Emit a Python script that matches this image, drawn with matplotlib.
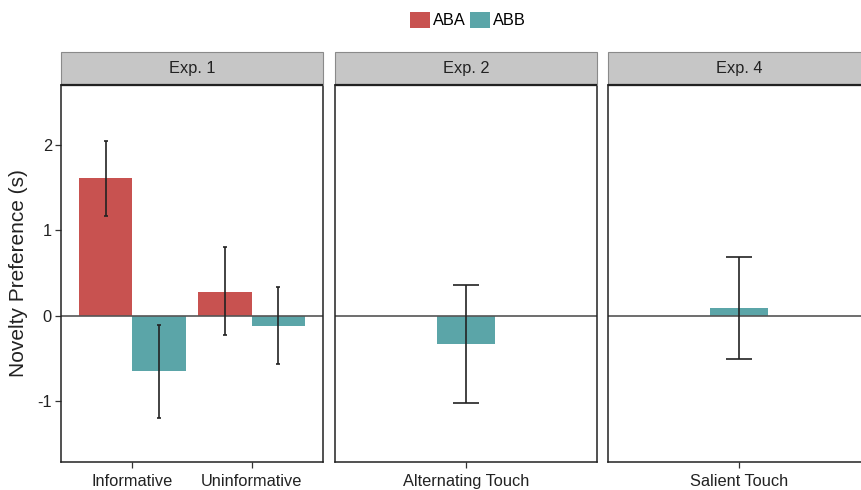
#!/usr/bin/env python
"""Novelty preference by experiment, faceted bar chart with error bars."""

import matplotlib
matplotlib.use('Agg')
import matplotlib.pyplot as plt
from matplotlib.patches import Patch, Rectangle

plt.rcParams['font.family'] = ['Liberation Sans', 'DejaVu Sans']

COLOR_ABA   = '#C85250'
COLOR_ABB   = '#5BA5A8'
STRIP_FILL  = '#C6C6C6'
STRIP_EDGE  = '#8A8A8A'
INK         = '#222222'
FONT_SIZE   = 11.8

# Data
exp1_categories = ['Informative', 'Uninformative']
exp1_aba        = [1.61, 0.28]
exp1_aba_lo     = [1.17, -0.23]
exp1_aba_hi     = [2.05, 0.81]
exp1_abb        = [-0.65, -0.12]
exp1_abb_lo     = [-1.19, -0.56]
exp1_abb_hi     = [-0.11, 0.34]

exp2_categories = ['Alternating Touch']
exp2_abb        = [-0.33]
exp2_abb_lo     = [-1.02]
exp2_abb_hi     = [0.36]

exp4_categories = ['Salient Touch']
exp4_abb        = [0.09]
exp4_abb_lo     = [-0.51]
exp4_abb_hi     = [0.69]

panel_titles = ['Exp. 1', 'Exp. 2', 'Exp. 4']
y_ticks      = [-1, 0, 1, 2]

W, H = 862, 490
fig = plt.figure(figsize=(W / 100, H / 100), dpi=100)

PANEL_TOP, PANEL_BOTTOM = 85, 462
STRIP_H = 33
panel_lefts = [61, 335, 608]
PANEL_W = 262


def make_axes(left_px):
    ax = fig.add_axes([left_px / W, 1 - PANEL_BOTTOM / H,
                       PANEL_W / W, (PANEL_BOTTOM - PANEL_TOP) / H])
    ax.set_ylim(-1.71, 2.70)
    for sp in ax.spines.values():
        sp.set_color('#222222')
        sp.set_linewidth(1.1)
    ax.tick_params(axis='both', length=4.5, width=0.9, color='#333333',
                   labelsize=FONT_SIZE, labelcolor=INK, pad=2)
    ax.tick_params(axis='x', pad=4)
    ax.axhline(0, color='#555555', lw=1.2, zorder=2.5)
    return ax


def add_strip(ax, title):
    h = STRIP_H / (PANEL_BOTTOM - PANEL_TOP)
    ax.add_patch(Rectangle((0, 1), 1, h, transform=ax.transAxes,
                           facecolor=STRIP_FILL, edgecolor=STRIP_EDGE,
                           lw=0.8, clip_on=False, zorder=5))
    # dark panel border line under the strip
    ax.plot([0, 1], [1, 1], transform=ax.transAxes, color=INK, lw=1.6,
            clip_on=False, zorder=7, solid_capstyle='butt')
    ax.text(0.5, 1 + h / 2, title, transform=ax.transAxes, ha='center',
            va='center', fontsize=FONT_SIZE, color=INK, zorder=6)


def errbar(ax, x, y, lo, hi, capsize):
    yerr = [[v - l for v, l in zip(y, lo)], [h - v for v, h in zip(y, hi)]]
    ax.errorbar(x, y, yerr=yerr, fmt='none', ecolor=INK, elinewidth=1.2,
                capsize=capsize, capthick=1.2, zorder=3)


axes = [make_axes(l) for l in panel_lefts]

# Panel 1: two categories, dodged bars
ax1 = axes[0]
xs = list(range(1, len(exp1_categories) + 1))
x_aba = [x - 0.225 for x in xs]
x_abb = [x + 0.225 for x in xs]
ax1.bar(x_aba, exp1_aba, width=0.45, color=COLOR_ABA, zorder=2)
ax1.bar(x_abb, exp1_abb, width=0.45, color=COLOR_ABB, zorder=2)
errbar(ax1, x_aba, exp1_aba, exp1_aba_lo, exp1_aba_hi, 1.5)
errbar(ax1, x_abb, exp1_abb, exp1_abb_lo, exp1_abb_hi, 1.5)
ax1.set_xlim(0.4, len(xs) + 0.6)
ax1.set_xticks(xs)
ax1.set_xticklabels(exp1_categories)
ax1.set_yticks(y_ticks)
ax1.set_yticklabels([str(t) for t in y_ticks])
ax1.set_ylabel('Novelty Preference (s)', fontsize=15, color=INK, labelpad=7)

# Panels 2 and 3: single ABB bar
for ax, cats, v, lo, hi in [(axes[1], exp2_categories, exp2_abb, exp2_abb_lo, exp2_abb_hi),
                            (axes[2], exp4_categories, exp4_abb, exp4_abb_lo, exp4_abb_hi)]:
    xs = list(range(1, len(cats) + 1))
    ax.bar(xs, v, width=0.27, color=COLOR_ABB, zorder=2)
    errbar(ax, xs, v, lo, hi, 9.4)
    ax.set_xlim(0.4, len(xs) + 0.6)
    ax.set_xticks(xs)
    ax.set_xticklabels(cats)
    ax.set_yticks(y_ticks)
    ax.tick_params(axis='y', left=False, labelleft=False)

for ax, title in zip(axes, panel_titles):
    add_strip(ax, title)

handles = [Patch(facecolor=COLOR_ABA, edgecolor='none', label='ABA'),
           Patch(facecolor=COLOR_ABB, edgecolor='none', label='ABB')]
fig.legend(handles=handles, loc='center', bbox_to_anchor=(468 / W, 1 - 20 / H),
           ncol=2, frameon=False, fontsize=FONT_SIZE, handlelength=1.2,
           handleheight=1.2, handletextpad=0.2, columnspacing=0.25,
           borderpad=0.2)

fig.savefig('out.png', dpi=100)
